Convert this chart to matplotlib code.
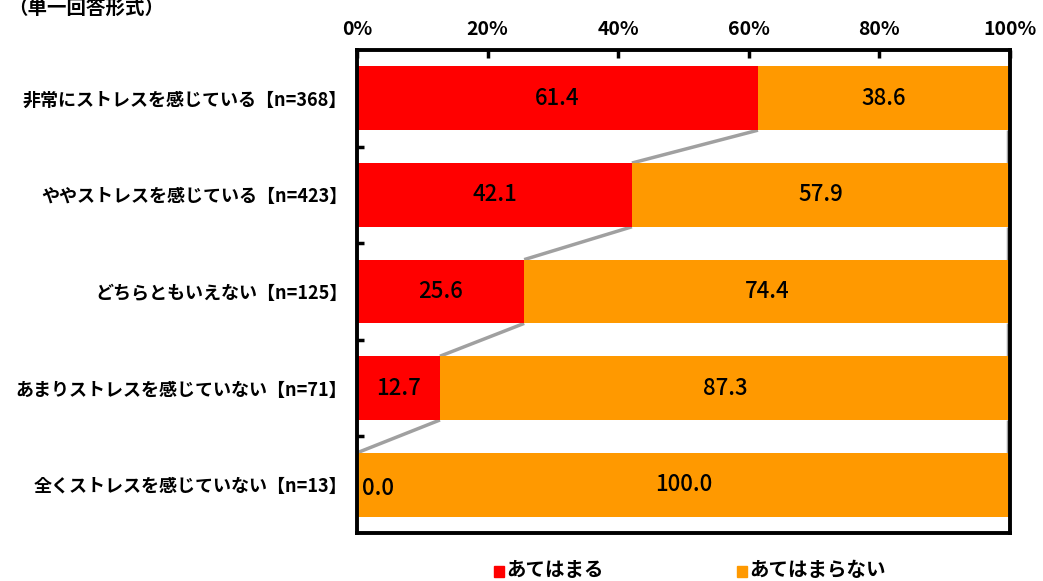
import numpy as np
import matplotlib.pyplot as plt
from matplotlib.patches import Rectangle

plt.rcParams['font.family'] = ['Noto Sans CJK JP', 'DejaVu Sans']

# data
categories = ['非常にストレスを感じている【n=368】',
              'ややストレスを感じている【n=423】',
              'どちらともいえない【n=125】',
              'あまりストレスを感じていない【n=71】',
              '全くストレスを感じていない【n=13】']
applies = [61.4, 42.1, 25.6, 12.7, 0.0]
not_applies = [38.6, 57.9, 74.4, 87.3, 100.0]
series_names = ['あてはまる', 'あてはまらない']
colors = ['#FF0000', '#FF9900']
xticks = [0, 20, 40, 60, 80, 100]

fig = plt.figure(figsize=(10.43, 5.81), dpi=100)
ax = fig.add_axes([357/1043, 1-533/581, 653/1043, 483/581])

y = np.arange(len(categories))
h = 0.66
ax.barh(y, applies, height=h, color=colors[0], zorder=2)
ax.barh(y, not_applies, left=applies, height=h, color=colors[1], zorder=2)

# connector lines between bars
for i in range(len(y) - 1):
    ax.plot([applies[i], applies[i+1]], [y[i] + h/2, y[i+1] - h/2],
            color='#A0A0A0', lw=2.5, zorder=1, solid_capstyle='butt')
    tot0 = applies[i] + not_applies[i] - 0.3
    tot1 = applies[i+1] + not_applies[i+1] - 0.3
    ax.plot([tot0, tot1], [y[i] + h/2, y[i+1] - h/2],
            color='#A0A0A0', lw=2.5, zorder=1, solid_capstyle='butt')

# value labels
for i in range(len(y)):
    if applies[i] > 0:
        ax.text(applies[i]/2, y[i], '%.1f' % applies[i], ha='center', va='center',
                fontsize=16, fontweight='medium', zorder=3)
    else:
        ax.text(0.8, y[i] + 0.04, '%.1f' % applies[i], ha='left', va='center',
                fontsize=16, fontweight='medium', zorder=3)
    ax.text(applies[i] + not_applies[i]/2, y[i], '%.1f' % not_applies[i],
            ha='center', va='center', fontsize=16, fontweight='medium', zorder=3)

ax.set_xlim(0, 100)
ax.set_ylim(len(y) - 0.5, -0.5)
ax.xaxis.tick_top()
ax.set_xticks(xticks)
ax.set_xticklabels(['%d%%' % t for t in xticks], fontsize=14, fontweight='bold')
ax.tick_params(axis='x', direction='in', length=6, width=2.5, pad=8)

ax.set_yticks(y)
ax.set_yticklabels(categories, fontsize=13, fontweight='bold')
ax.set_yticks(np.arange(len(y) - 1) + 0.5, minor=True)
ax.tick_params(axis='y', which='major', length=0, pad=7)
ax.tick_params(axis='y', which='minor', direction='in', length=5, width=2.5)

for s in ax.spines.values():
    s.set_linewidth(2.8)
    s.set_color('black')

# title at the very top
fig.text(8/1043, 1 - 8/581, '（単一回答形式）', ha='left', va='center',
         fontsize=14, fontweight='bold')

# legend
lx = [494, 737]
for k in range(2):
    fig.patches.append(Rectangle((lx[k]/1043, 1 - 577/581), 10/1043, 11/581,
                                 transform=fig.transFigure, color=colors[k]))
    fig.text((lx[k] + 12)/1043, 1 - 571/581, series_names[k], ha='left', va='center',
             fontsize=14, fontweight='bold')

fig.savefig('out.png', dpi=100)
